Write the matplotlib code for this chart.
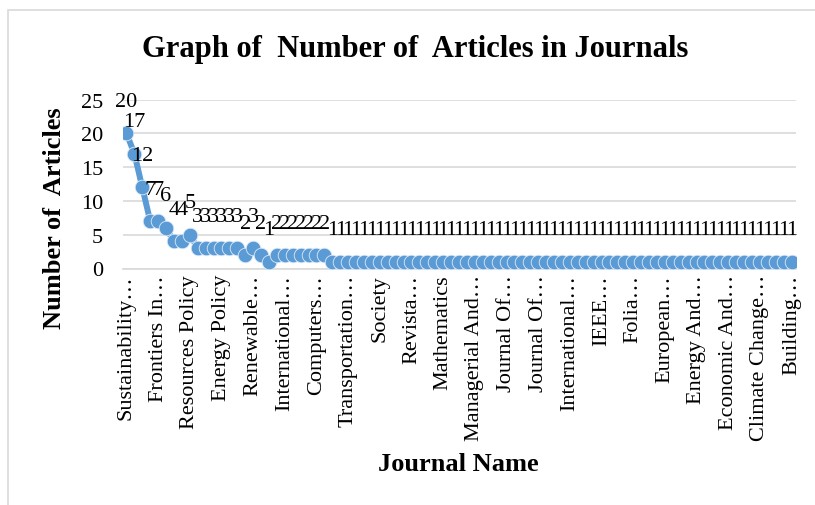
import matplotlib.pyplot as plt
from matplotlib.patches import Rectangle

# articles per journal, in the order the journals are listed
articles = [20, 17, 12, 7, 7, 6, 4, 4, 5,
            3, 3, 3, 3, 3, 3, 2, 3, 2, 1,
            2, 2, 2, 2, 2, 2, 2] + [1] * 59

# only every fourth journal gets a name on the axis
journal_labels = ["Sustainability…", "Frontiers In…", "Resources Policy",
                  "Energy Policy", "Renewable…", "International…",
                  "Computers…", "Transportation…", "Society", "Revista…",
                  "Mathematics", "Managerial And…", "Journal Of…",
                  "Journal Of…", "International…", "IEEE…", "Folia…",
                  "European…", "Energy And…", "Economic And…",
                  "Climate Change…", "Building…"]
label_step = 4

plt.rcParams['font.family'] = ['Liberation Serif', 'DejaVu Serif']

fig = plt.figure(figsize=(8.15, 5.06), dpi=100)
ax = fig.add_axes([122.5 / 815, 1 - 269.5 / 506, 673 / 815, 169 / 506])

# light frame round the chart
fig.patches.append(Rectangle((8 / 815, -0.1), 1.2, 1 - 11 / 506 + 0.1,
                             transform=fig.transFigure, fill=False,
                             edgecolor='#d9d9d9', linewidth=1.2))

idx = list(range(len(articles)))
ax.plot(idx, articles, color='#5b9bd5', linewidth=4.3, marker='o',
        markersize=10.5, markeredgecolor='#dce9f6', markeredgewidth=0.6,
        zorder=3)

for i, v in zip(idx, articles):
    ax.annotate(str(v), (i, v), xytext=(0, 23), textcoords='offset points',
                ha='center', va='center', fontsize=16, zorder=4)

ax.set_xlim(-0.5, len(articles) - 0.5)
ax.set_ylim(0, 25)
ax.set_yticks(range(0, 26, 5))
ax.set_xticks(idx[::label_step])
ax.set_xticklabels(journal_labels, rotation=90, fontsize=16)
ax.tick_params(axis='y', labelsize=16, length=0, pad=14)
ax.tick_params(axis='x', length=0, pad=4)

ax.grid(axis='y', color='#d9d9d9', linewidth=1.2)
ax.set_axisbelow(True)
for side in ['top', 'right', 'left']:
    ax.spines[side].set_visible(False)
ax.spines['bottom'].set_color('#d9d9d9')
ax.spines['bottom'].set_linewidth(1.2)

fig.text(415 / 815, 1 - 50 / 506, "Graph of  Number of  Articles in Journals",
         ha='center', va='center', fontsize=22, fontweight='bold')
fig.text(55 / 815, 1 - 218 / 506, "Number of  Articles", rotation=90,
         ha='center', va='center', fontsize=19, fontweight='bold')
fig.text(458 / 815, 1 - 465 / 506, "Journal Name",
         ha='center', va='center', fontsize=19, fontweight='bold')

fig.savefig('out.png', dpi=100)
